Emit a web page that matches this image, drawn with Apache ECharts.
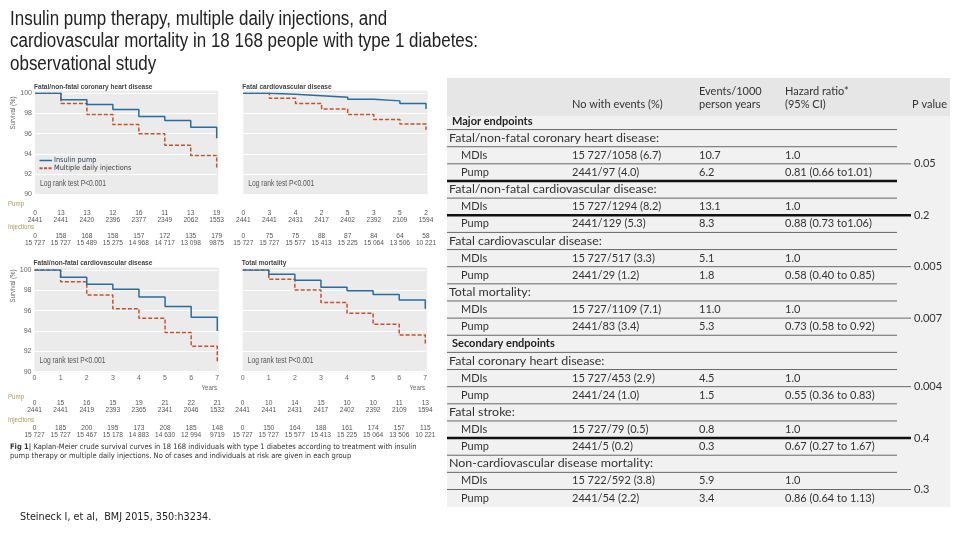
<!DOCTYPE html>
<html><head><meta charset="utf-8">
<script src="https://cdn.jsdelivr.net/npm/echarts@6/dist/echarts.min.js"></script>
<style>html,body{margin:0;padding:0;background:#fff}#c{width:960px;height:540px}</style>
</head><body><div id="c"></div>
<script>
// ---------- data ----------
const years = [0, 1, 2, 3, 4, 5, 6, 7];
const yTicks = [90, 92, 94, 96, 98, 100];
// survival (%) curves
const chdPump  = [100, 99.35, 98.9, 98.4, 97.7, 97.3, 96.65, 95.55];
const chdMdi   = [100, 99.0, 97.9, 96.9, 96.0, 94.85, 93.85, 92.6];
const fcvdPump = [100, 99.9, 99.75, 99.6, 99.4, 99.25, 99.0, 98.45];
const fcvdMdi  = [100, 99.5, 99.0, 98.45, 97.9, 97.4, 96.95, 96.4];
const cvdPump  = [100, 99.28, 98.6, 98.1, 97.35, 96.4, 95.35, 94.0];
const cvdMdi   = [100, 98.85, 97.55, 96.2, 95.25, 93.85, 92.5, 91.0];
const totPump  = [100, 99.57, 99.0, 98.3, 97.97, 97.6, 97.05, 96.2];
const totMdi   = [100, 99.08, 98.03, 96.8, 95.74, 94.66, 93.6, 92.7];
// numbers of cases / at risk
const chdPumpEv  = ['0','13','13','12','16','11','13','19'];
const chdPumpRisk= ['2441','2441','2420','2396','2377','2349','2062','1553'];
const chdInjEv   = ['0','158','168','158','157','172','135','179'];
const chdInjRisk = ['15 727','15 727','15 489','15 275','14 968','14 717','13 098','9875'];
const fcvdPumpEv  = ['0','3','4','2','5','3','5','2'];
const fcvdPumpRisk= ['2441','2441','2431','2417','2402','2392','2109','1594'];
const fcvdInjEv   = ['0','75','75','88','87','84','64','58'];
const fcvdInjRisk = ['15 727','15 727','15 577','15 413','15 225','15 064','13 506','10 221'];
const cvdPumpEv  = ['0','15','16','15','19','21','22','21'];
const cvdPumpRisk= ['2441','2441','2419','2393','2365','2341','2046','1532'];
const cvdInjEv   = ['0','185','200','195','173','208','185','148'];
const cvdInjRisk = ['15 727','15 727','15 467','15 178','14 883','14 630','12 994','9719'];
const totPumpEv  = ['0','10','14','15','10','10','11','13'];
const totPumpRisk= ['2441','2441','2431','2417','2402','2392','2109','1594'];
const totInjEv   = ['0','150','164','188','161','174','157','115'];
const totInjRisk = ['15 727','15 727','15 577','15 413','15 225','15 064','13 506','10 221'];
const panelTitles = ['Fatal/non-fatal coronary heart disease', 'Fatal cardiovascular disease', 'Fatal/non-fatal cardiovascular disease', 'Total mortality'];
const titleLines = ['Insulin pump therapy, multiple daily injections, and', 'cardiovascular mortality in 18 168 people with type 1 diabetes:', 'observational study'];
// table
const sectionNames = ['Major endpoints', 'Secondary endpoints'];
const sectionStartAt = [0, 4];
const endpointNames = ['Fatal/non-fatal coronary heart disease:', 'Fatal/non-fatal cardiovascular disease:', 'Fatal cardiovascular disease:', 'Total mortality:', 'Fatal coronary heart disease:', 'Fatal stroke:', 'Non-cardiovascular disease mortality:'];
const mdiEvents  = ['15 727/1058 (6.7)', '15 727/1294 (8.2)', '15 727/517 (3.3)', '15 727/1109 (7.1)', '15 727/453 (2.9)', '15 727/79 (0.5)', '15 722/592 (3.8)'];
const pumpEvents = ['2441/97 (4.0)', '2441/129 (5.3)', '2441/29 (1.2)', '2441/83 (3.4)', '2441/24 (1.0)', '2441/5 (0.2)', '2441/54 (2.2)'];
const mdiRate  = ['10.7', '13.1', '5.1', '11.0', '4.5', '0.8', '5.9'];
const pumpRate = ['6.2', '8.3', '1.8', '5.3', '1.5', '0.3', '3.4'];
const mdiHR  = ['1.0', '1.0', '1.0', '1.0', '1.0', '1.0', '1.0'];
const pumpHR = ['0.81 (0.66 to1.01)', '0.88 (0.73 to1.06)', '0.58 (0.40 to 0.85)', '0.73 (0.58 to 0.92)', '0.55 (0.36 to 0.83)', '0.67 (0.27 to 1.67)', '0.86 (0.64 to 1.13)'];
const pValues = ['0.05', '0.2', '0.005', '0.007', '0.004', '0.4', '0.3'];

// ---------- layout / style ----------
const FA = "'Liberation Sans',Arial,sans-serif";
const FN = "'Liberation Sans Narrow','DejaVu Sans Condensed','Roboto Condensed','Liberation Sans',sans-serif";
const FT = "Lato,'Open Sans',sans-serif";
const NARROW = 0.82;
const BLUE = '#2b6c9e', RED = '#c2532f', BG = '#ebebeb';
const grids = [
  {left: 35, top: 93.3, width: 181.7, height: 101},
  {left: 243.3, top: 93.3, width: 182.7, height: 101},
  {left: 34.5, top: 270, width: 182.8, height: 101.7},
  {left: 242.7, top: 270, width: 182.6, height: 101.7}
];
const pumpCurves = [chdPump, fcvdPump, cvdPump, totPump];
const mdiCurves = [chdMdi, fcvdMdi, cvdMdi, totMdi];
const atRisk = [
  [chdPumpEv, chdPumpRisk, chdInjEv, chdInjRisk],
  [fcvdPumpEv, fcvdPumpRisk, fcvdInjEv, fcvdInjRisk],
  [cvdPumpEv, cvdPumpRisk, cvdInjEv, cvdInjRisk],
  [totPumpEv, totPumpRisk, totInjEv, totInjRisk]
];
const km = v => years.map((y, i) => [y, v[i]]);

const xAxes = [], yAxes = [], series = [], graphics = [];
function txt(x, y, text, opt, extra) {
  graphics.push(Object.assign({type: 'text', x: x, y: y, z: 5, silent: true,
    style: Object.assign({text: text, fontFamily: FT, fontSize: 11, fill: '#333', align: 'left', verticalAlign: 'middle'}, opt || {})}, extra || {}));
}
function ntxt(x, y, text, opt) { txt(x, y, text, Object.assign({fontFamily: FA}, opt || {}), {scaleX: NARROW}); }
function rect(x, y, w, h, fill) {
  graphics.push({type: 'rect', z: -10, silent: true, shape: {x: x, y: y, width: w, height: h}, style: {fill: fill}});
}
function hline(x1, x2, y, w, c, dash) {
  graphics.push({type: 'line', z: 4, silent: true, shape: {x1: x1, y1: y, x2: x2, y2: y}, style: {stroke: c, lineWidth: w, lineDash: dash || null}});
}

grids.forEach((g, p) => {
  const bottomRow = p >= 2, leftCol = p % 2 === 0;
  const gBottom = g.top + g.height;
  rect(g.left, g.top - 2.5, g.width + 1.5, g.height + 3, BG);
  xAxes.push({gridIndex: p, type: 'value', min: 0, max: 7, interval: 1,
    axisLine: {show: false}, axisTick: {show: false}, splitLine: {show: false},
    axisLabel: {show: bottomRow, fontSize: 7, color: '#666', margin: 3, fontFamily: FA}});
  yAxes.push({gridIndex: p, type: 'value', min: yTicks[0], max: yTicks[yTicks.length - 1], interval: 2,
    axisLine: {show: false}, axisTick: {show: false},
    splitLine: {show: true, lineStyle: {color: '#ffffff', width: 1}},
    axisLabel: {show: leftCol, fontSize: 7, color: '#666', margin: 3, fontFamily: FA}});
  // at-risk rows as extra axes
  const offs = bottomRow ? [28, 53] : [15.5, 38.5];
  [0, 1].forEach(r => {
    const ev = atRisk[p][r * 2], rk = atRisk[p][r * 2 + 1];
    xAxes.push({gridIndex: p, type: 'value', min: 0, max: 7, interval: 1, position: 'bottom', offset: offs[r],
      axisLine: {show: false}, axisTick: {show: false}, splitLine: {show: false},
      axisLabel: {show: true, fontSize: 6.6, lineHeight: 7, color: '#555', margin: 0, fontFamily: FA,
        showMinLabel: true, showMaxLabel: true,
        formatter: v => ev[Math.round(v)] + '\n' + rk[Math.round(v)]}});
  });
  series.push({type: 'line', name: 'Multiple daily injections', xAxisIndex: p * 3, yAxisIndex: p,
    data: km(mdiCurves[p]), step: 'end', symbol: 'none', showSymbol: false, z: 2,
    lineStyle: {color: RED, width: 1.5, type: [4, 2]}, itemStyle: {color: RED}});
  series.push({type: 'line', name: 'Insulin pump', xAxisIndex: p * 3, yAxisIndex: p,
    data: km(pumpCurves[p]), step: 'end', symbol: 'none', showSymbol: false, z: 3,
    lineStyle: {color: BLUE, width: 1.5}, itemStyle: {color: BLUE}});
  ntxt(g.left - 1, g.top - 7, panelTitles[p], {fontSize: 8, fontWeight: 'bold', fill: '#444'});
  ntxt(g.left + 5, gBottom - 11, 'Log rank test P<0.001', {fontSize: 8.2, fill: '#555'});
  if (bottomRow) ntxt(g.left + g.width - 8, gBottom + 16.5, 'Years', {fontSize: 7.5, fill: '#666', align: 'center'});
});
// Survival labels
txt(13, 113, 'Survival (%)', {fontFamily: FA, fontSize: 7.5, fill: '#666', align: 'center'}, {rotation: Math.PI / 2, scaleX: NARROW});
txt(13, 286, 'Survival (%)', {fontFamily: FA, fontSize: 7.5, fill: '#666', align: 'center'}, {rotation: Math.PI / 2, scaleX: NARROW});
// manual legend in first panel
hline(39.5, 52, 160.5, 1.5, BLUE);
hline(39.5, 52, 168.3, 2, RED, [3, 1.5]);
txt(54, 160.5, 'Insulin pump', {fontFamily: FN, fontSize: 7.3, fill: '#2e3f55'});
txt(54, 168.3, 'Multiple daily injections', {fontFamily: FN, fontSize: 7.3, fill: '#3a3a3a'});
// at-risk row names
const RISK_LBL = '#a89a5a';
ntxt(8, 203.5, 'Pump', {fontSize: 7.5, fill: RISK_LBL});
ntxt(8, 227, 'Injections', {fontSize: 7.5, fill: RISK_LBL});
ntxt(8, 397, 'Pump', {fontSize: 7.5, fill: RISK_LBL});
ntxt(8, 419.5, 'Injections', {fontSize: 7.5, fill: RISK_LBL});
// caption
graphics.push({type: 'text', x: 10, y: 452, z: 5, silent: true, style: {
  text: '{b|Fig 1|} Kaplan-Meier crude survival curves in 18 168 individuals with type 1 diabetes according to treatment with insulin\npump therapy or multiple daily injections. No of cases and individuals at risk are given in each group',
  fontFamily: FN, fontSize: 7.5, lineHeight: 9, fill: '#333', verticalAlign: 'middle',
  rich: {b: {fontFamily: FN, fontSize: 7.5, fontWeight: 'bold', fill: '#333'}}}});
// citation
txt(20, 517, 'Steineck I, et al,  BMJ 2015, 350:h3234.', {fontFamily: "'DejaVu Sans',sans-serif", fontSize: 10.5, fill: '#222'}, {scaleX: 0.92});
// title, condensed to the width of the original headline
const TITLE_FS = 19.5;
const mctx = document.createElement('canvas').getContext('2d');
mctx.font = TITLE_FS + "px 'Liberation Sans'";
const titleScale = 468 / mctx.measureText(titleLines[1]).width;
titleLines.forEach((t, i) => txt(10, 19.5 + 22.5 * i, t, {fontFamily: FA, fontSize: TITLE_FS, fill: '#222'}, {scaleX: titleScale}));

// ---------- table ----------
const TX = 447, TW = 503;
rect(TX, 78, TW, 38, '#e6e6e6');
rect(TX, 116, TW, 391, '#f1f1f1');
txt(572, 104, 'No with events (%)');
txt(699, 91, 'Events/1000');
txt(699, 104, 'person years');
txt(785, 91, 'Hazard ratio*');
txt(785, 104, '(95% CI)');
txt(912, 104, 'P value');
const rows = [];
endpointNames.forEach((n, e) => {
  const s = sectionStartAt.indexOf(e);
  if (s >= 0) rows.push({k: 'sec', t: sectionNames[s]});
  rows.push({k: 'name', t: n});
  rows.push({k: 'mdi', e: e});
  rows.push({k: 'pump', e: e});
});
const ROW0 = 121, RH = 17.14;
const thickAfter = [3, 5, 18];
rows.forEach((r, i) => {
  const yc = ROW0 + RH * i, yl = yc + RH / 2;
  if (r.k === 'sec') txt(452, yc, r.t, {fontWeight: 'bold', fill: '#222'});
  else if (r.k === 'name') txt(449, yc, r.t, {fontSize: 11}, {scaleX: 1.13});
  else {
    const m = r.k === 'mdi';
    txt(461, yc, m ? 'MDIs' : 'Pump');
    txt(572, yc, m ? mdiEvents[r.e] : pumpEvents[r.e]);
    txt(699, yc, m ? mdiRate[r.e] : pumpRate[r.e]);
    txt(785, yc, m ? mdiHR[r.e] : pumpHR[r.e]);
    if (m) txt(914, yl, pValues[r.e]);
  }
  if (i < rows.length - 1) {
    const thick = thickAfter.indexOf(i) >= 0;
    hline(TX, r.k === 'mdi' ? 911 : 897, yl, thick ? 2.5 : 0.8, thick ? '#111' : '#444');
  }
});

const chart = echarts.init(document.getElementById('c'), null, {renderer: 'canvas'});
chart.setOption({
  animation: false,
  backgroundColor: '#ffffff',
  grid: grids.map(g => Object.assign({containLabel: false}, g)),
  xAxis: xAxes,
  yAxis: yAxes,
  series: series,
  graphic: {elements: graphics}
});
</script></body></html>
